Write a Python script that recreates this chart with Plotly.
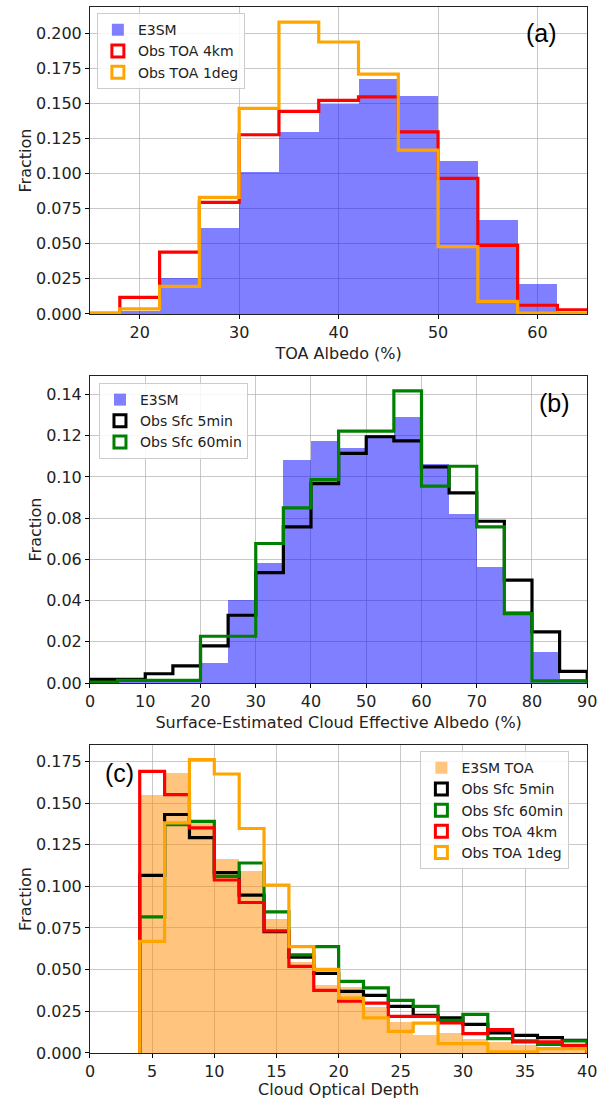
import numpy as np
import plotly.graph_objects as go

# ---- panel (a): TOA albedo, bins of 4 %
toa_edges = list(range(14, 67, 4))
toa_e3sm = [0.0005, 0.002, 0.0256, 0.0615, 0.1008, 0.1297, 0.1496, 0.1669,
            0.1555, 0.1091, 0.0670, 0.0213, 0.0010]
toa_obs_4km = [0.0005, 0.0118, 0.0440, 0.0795, 0.1276, 0.1442, 0.1520, 0.1546,
               0.1297, 0.0966, 0.0488, 0.0062, 0.0030]
toa_obs_1deg = [0.0007, 0.0036, 0.0196, 0.0830, 0.1463, 0.2078, 0.1936, 0.1707,
                0.1167, 0.0480, 0.0090, 0.0007, 0.0005]

# ---- panel (b): surface-estimated cloud effective albedo, bins of 5 %
sfc_edges = list(range(0, 91, 5))
sfc_e3sm = [0.0003, 0.0005, 0.0005, 0.0010, 0.0099, 0.0405, 0.0583, 0.1081, 0.1174,
            0.1143, 0.1203, 0.1292, 0.1062, 0.0822, 0.0563, 0.0350, 0.0149, 0.0020]
sfc_obs_5min = [0.0018, 0.0018, 0.0045, 0.0083, 0.0180, 0.0329, 0.0536, 0.0758, 0.0968,
                0.1114, 0.1195, 0.1175, 0.1049, 0.0923, 0.0785, 0.0499, 0.0248, 0.0057]
sfc_obs_60min = [0.0005, 0.0013, 0.0013, 0.0013, 0.0227, 0.0227, 0.0677, 0.0850, 0.0987,
                 0.1222, 0.1222, 0.1418, 0.0955, 0.1052, 0.0758, 0.0337, 0.0010, 0.0010]

# ---- panel (c): cloud optical depth, bins of 2
cod_edges = list(range(4, 41, 2))
cod_e3sm = [0.1550, 0.1680, 0.1380, 0.1162, 0.1092, 0.0803, 0.0548, 0.0405, 0.0395,
            0.0275, 0.0185, 0.0110, 0.0120, 0.0086, 0.0066, 0.0046, 0.0036, 0.0026]
cod_sfc_5min = [0.1066, 0.1431, 0.1292, 0.1082, 0.0947, 0.0728, 0.0575, 0.0478, 0.0370,
                0.0345, 0.0279, 0.0225, 0.0211, 0.0171, 0.0120, 0.0106, 0.0092, 0.0076]
cod_sfc_60min = [0.0817, 0.1370, 0.1390, 0.1060, 0.1140, 0.0847, 0.0588, 0.0638, 0.0430,
                 0.0390, 0.0315, 0.0280, 0.0195, 0.0231, 0.0086, 0.0072, 0.0052, 0.0072]
cod_toa_4km = [0.1690, 0.1550, 0.1351, 0.1038, 0.0903, 0.0733, 0.0520, 0.0375, 0.0311,
               0.0299, 0.0219, 0.0219, 0.0181, 0.0116, 0.0140, 0.0066, 0.0066, 0.0046]
cod_toa_1deg = [0.0670, 0.1381, 0.1760, 0.1674, 0.1347, 0.1007, 0.0638, 0.0502, 0.0329,
                0.0211, 0.0130, 0.0179, 0.0056, 0.0056, 0.0006, 0.0006, 0.0026, 0.0026]

FONT = "DejaVu Sans"


def step_xy(edges, vals):
    # outline of a matplotlib 'step' histogram
    x = [edges[0]] + list(edges) + [edges[-1]]
    y = [0] + list(vals) + [vals[-1], 0]
    return x, y


fig = go.Figure()


def add_panel(n, edges, fill_vals, fill_name, fill_color, steps, legend):
    xa = "x" if n == 1 else f"x{n}"
    ya = "y" if n == 1 else f"y{n}"
    w = edges[1] - edges[0]
    fig.add_trace(go.Bar(
        x=edges[:-1], y=fill_vals, width=w, offset=0,
        marker=dict(color=fill_color, line=dict(width=0)),
        name=fill_name, legend=legend, xaxis=xa, yaxis=ya,
    ))
    for name, vals, color in steps:
        sx, sy = step_xy(edges, vals)
        fig.add_trace(go.Scatter(
            x=sx, y=sy, mode="lines", line_shape="hv",
            line=dict(color=color, width=3.2),
            showlegend=False, legendgroup=f"{legend}{name}",
            xaxis=xa, yaxis=ya,
        ))
        # legend entry drawn as an outlined box, like matplotlib
        fig.add_trace(go.Bar(
            x=[None], y=[None], name=name, legend=legend,
            legendgroup=f"{legend}{name}",
            marker=dict(color="white", line=dict(color=color, width=3)),
            xaxis=xa, yaxis=ya,
        ))


add_panel(1, toa_edges, toa_e3sm, "E3SM", "rgba(0,0,255,0.5)",
          [("Obs TOA 4km", toa_obs_4km, "red"),
           ("Obs TOA 1deg", toa_obs_1deg, "orange")], "legend")
add_panel(2, sfc_edges, sfc_e3sm, "E3SM", "rgba(0,0,255,0.5)",
          [("Obs Sfc 5min", sfc_obs_5min, "black"),
           ("Obs Sfc 60min", sfc_obs_60min, "green")], "legend2")
add_panel(3, cod_edges, cod_e3sm, "E3SM TOA", "rgba(255,140,0,0.5)",
          [("Obs Sfc 5min", cod_sfc_5min, "black"),
           ("Obs Sfc 60min", cod_sfc_60min, "green"),
           ("Obs TOA 4km", cod_toa_4km, "red"),
           ("Obs TOA 1deg", cod_toa_1deg, "orange")], "legend3")

axis_style = dict(
    showline=True, mirror=True, linecolor="#222222", linewidth=1,
    ticks="outside", ticklen=4, tickcolor="black",
    showgrid=True, gridcolor="rgba(176,176,176,0.7)", gridwidth=1,
    zeroline=False, layer="above traces", automargin=False,
    ticklabeloverflow="allow",
    tickfont=dict(family=FONT, size=16, color="#222222"),
)

X_DOMAIN = [0.1505, 0.982]


def xax(rng, dtick, title, anchor):
    return dict(axis_style, domain=X_DOMAIN, range=rng, dtick=dtick, anchor=anchor,
                title=dict(text=title, font=dict(family=FONT, size=16, color="#222222"),
                           standoff=6))


def yax(domain, top, dtick, fmt, anchor):
    return dict(axis_style, domain=domain, range=[0, top], dtick=dtick,
                tickformat=fmt, anchor=anchor,
                title=dict(text="Fraction", font=dict(family=FONT, size=16, color="#222222"),
                           standoff=0))


legend_style = dict(
    bgcolor="rgba(255,255,255,0.85)", bordercolor="#cccccc", borderwidth=1,
    font=dict(family=FONT, size=14, color="#222222"),
    xref="paper", yref="paper", xanchor="left", yanchor="top",
    tracegroupgap=0, itemclick=False,
)


def panel_label(text, x, y):
    return dict(text=text, x=x, y=y, xref="paper", yref="paper",
                xanchor="center", yanchor="middle", showarrow=False,
                font=dict(family="Liberation Sans", size=25, color="black"))


fig.update_layout(
    width=598, height=1099,
    margin=dict(l=0, r=0, t=0, b=0),
    paper_bgcolor="white", plot_bgcolor="white",
    barmode="overlay", bargap=0,
    font=dict(family=FONT, size=16, color="#222222"),
    xaxis=xax([15, 65], 10, "TOA Albedo (%)", "y"),
    yaxis=yax([0.7143, 0.9936], 0.2185, 0.025, ".3f", "x"),
    xaxis2=xax([0, 90], 10, "Surface-Estimated Cloud Effective Albedo (%)", "y2"),
    yaxis2=yax([0.3785, 0.6579], 0.149, 0.02, ".2f", "x2"),
    xaxis3=xax([0, 40], 5, "Cloud Optical Depth", "y3"),
    yaxis3=yax([0.0419, 0.3221], 0.1848, 0.025, ".3f", "x3"),
    legend=dict(legend_style, x=0.162, y=0.988),
    legend2=dict(legend_style, x=0.1655, y=0.6515),
    legend3=dict(legend_style, x=0.703, y=0.3165),
    annotations=[
        panel_label("(a)", 0.905, 0.970),
        panel_label("(b)", 0.928, 0.633),
        panel_label("(c)", 0.199, 0.2966),
    ],
)

# drop the default page margin so the figure fills the window exactly
fig.write_html("out.html", config={"displayModeBar": False},
               post_script="document.body.style.margin = '0';")
